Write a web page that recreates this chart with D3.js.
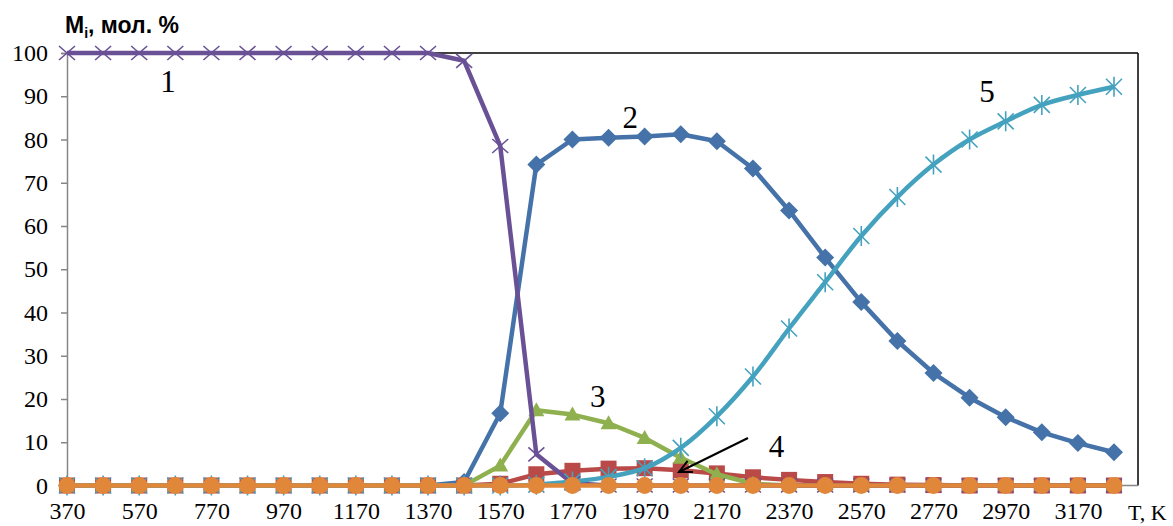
<!DOCTYPE html>
<html><head><meta charset="utf-8">
<script src="https://cdn.jsdelivr.net/npm/d3@7"></script>
<style>body{margin:0;background:#fff}svg{display:block}</style>
</head><body>
<svg id="c" width="1173" height="526"></svg>
<script>
const temps = d3.range(370, 3271, 100);
const xTickLabels = [370,570,770,970,1170,1370,1570,1770,1970,2170,2370,2570,2770,2970,3170];
const yTickLabels = [0,10,20,30,40,50,60,70,80,90,100];
// series values (mol %), index matches temps
const s1 = [100,100,100,100,100,100,100,100,100,100,100,98.2,78.5,7.2,0.5,0,0,0,0,0,0,0,0,0,0,0,0,0,0,0];
const s2 = [0,0,0,0,0,0,0,0,0,0,0,0.8,16.7,74.2,80.0,80.4,80.7,81.2,79.6,73.3,63.6,52.7,42.4,33.4,26.0,20.3,15.8,12.3,9.8,7.7];
const s3 = [0,0,0,0,0,0,0,0,0,0,0,0,4.6,17.4,16.4,14.4,11.0,6.4,2.6,0.4,0,0,0,0,0,0,0,0,0,0];
const s4 = [0,0,0,0,0,0,0,0,0,0,0,0,0.4,2.6,3.4,3.9,4.0,3.5,2.8,1.9,1.3,0.8,0.4,0.2,0.1,0,0,0,0,0];
const s5 = [0,0,0,0,0,0,0,0,0,0,0,0,0,0.2,0.9,2.0,4.0,8.7,16.0,25.2,36.3,47.0,57.7,66.7,74.2,80.0,84.2,88.0,90.3,92.2];
const s6 = temps.map(()=>0);
const seriesLabels = [{t:"1",x:650,y:92},{t:"2",x:1930,y:128},{t:"3",x:1840,y:407},{t:"4",x:2335,y:457},{t:"5",x:2918,y:102}];

const svg = d3.select("#c");
const x = d3.scaleLinear().domain([370,3270]).range([67,1114]);
const y = d3.scaleLinear().domain([0,100]).range([485.5,53]);
const right = 1138;

// frame
svg.append("line").attr("x1",67).attr("x2",right).attr("y1",53).attr("y2",53).attr("stroke","#000").attr("stroke-width",1.5);
svg.append("line").attr("x1",right).attr("x2",right).attr("y1",53).attr("y2",y(0)).attr("stroke","#000").attr("stroke-width",1.5);

// axes
const yAxis = d3.axisLeft(y).tickValues(yTickLabels).tickSize(6).tickPadding(13);
const gy = svg.append("g").attr("transform","translate(67,0)").call(yAxis);
gy.select(".domain").attr("stroke","#868686").attr("stroke-width",1.5);
gy.selectAll(".tick line").attr("stroke","#868686").attr("stroke-width",1.5);
gy.selectAll("text").attr("font-family","Liberation Serif, Times New Roman, serif").attr("font-size",24).attr("fill","#000");

const xAxis = d3.axisBottom(x).tickValues(xTickLabels).tickSize(0).tickPadding(16).tickFormat(d3.format("d"));
const gx = svg.append("g").attr("transform",`translate(0,${y(0)})`).call(xAxis);
gx.select(".domain").attr("d",`M67,0H${right}`).attr("stroke","#868686").attr("stroke-width",1.5);
gx.selectAll("text").attr("font-family","Liberation Serif, Times New Roman, serif").attr("font-size",24).attr("fill","#000");

svg.append("text").attr("x",1128).attr("y",520).attr("font-family","Liberation Serif, serif").attr("font-size",22).text("T, K");

// title
const tt = svg.append("text").attr("x",65).attr("y",33).attr("font-family","Liberation Sans, Arial, sans-serif").attr("font-weight","bold").attr("font-size",23);
tt.append("tspan").text("M");
tt.append("tspan").attr("font-size",14).attr("dy",5).text("i");
tt.append("tspan").attr("dy",-5).text(", мол. %");

const series = [
  {v:s2, c:"#4472A9", m:"diamond"},
  {v:s4, c:"#B94A48", m:"square"},
  {v:s3, c:"#8FB04E", m:"triangle"},
  {v:s1, c:"#6A5196", m:"x"},
  {v:s5, c:"#45A2BF", m:"star", smooth:true},
  {v:s6, c:"#E0873A", m:"circle"}
];

series.forEach(s=>{
  const pts = temps.map((t,i)=>[x(t), y(s.v[i])]);
  const line = d3.line().curve(s.smooth ? d3.curveCatmullRom.alpha(0.5) : d3.curveLinear);
  svg.append("path").attr("d",line(pts)).attr("fill","none").attr("stroke",s.c).attr("stroke-width",4.5).attr("stroke-linejoin","round");
  const g = svg.append("g");
  pts.forEach(([px,py])=>{
    if(s.m==="diamond"){
      g.append("path").attr("d",`M${px},${py-9}L${px+9},${py}L${px},${py+9}L${px-9},${py}Z`).attr("fill",s.c);
    } else if(s.m==="square"){
      g.append("rect").attr("x",px-8).attr("y",py-8).attr("width",16).attr("height",16).attr("fill",s.c);
    } else if(s.m==="triangle"){
      g.append("path").attr("d",`M${px},${py-8}L${px+8},${py+6}L${px-8},${py+6}Z`).attr("fill",s.c);
    } else if(s.m==="x"){
      g.append("path").attr("d",`M${px-8},${py-7}L${px+8},${py+7}M${px-8},${py+7}L${px+8},${py-7}`).attr("stroke",s.c).attr("stroke-width",1.6);
    } else if(s.m==="star"){
      g.append("path").attr("d",`M${px-8},${py-8}L${px+8},${py+8}M${px-8},${py+8}L${px+8},${py-8}M${px},${py-10}L${px},${py+10}`).attr("stroke",s.c).attr("stroke-width",1.6);
    } else if(s.m==="circle"){
      g.append("circle").attr("cx",px).attr("cy",py).attr("r",8.5).attr("fill",s.c);
    }
  });
});

// series labels
seriesLabels.forEach(l=>{
  svg.append("text").attr("x",x(l.x)).attr("y",l.y).attr("font-family","Liberation Serif, serif").attr("font-size",31).attr("text-anchor","middle").text(l.t);
});

// arrow for label 4
const a0=[748,438], a1=[679,472];
svg.append("line").attr("x1",a0[0]).attr("y1",a0[1]).attr("x2",a1[0]).attr("y2",a1[1]).attr("stroke","#000").attr("stroke-width",2);
const ang = Math.atan2(a0[1]-a1[1], a0[0]-a1[0]);
const hl=14, hw=0.45;
svg.append("path").attr("d",`M${a1[0]+hl*Math.cos(ang+hw)},${a1[1]+hl*Math.sin(ang+hw)}L${a1[0]},${a1[1]}L${a1[0]+hl*Math.cos(ang-hw)},${a1[1]+hl*Math.sin(ang-hw)}`).attr("fill","none").attr("stroke","#000").attr("stroke-width",2);
</script>
</body></html>
